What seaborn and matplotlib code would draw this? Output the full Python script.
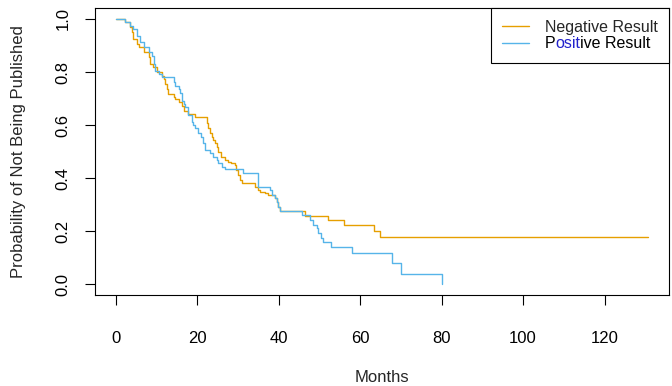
import matplotlib
matplotlib.use("Agg")
import matplotlib.pyplot as plt
from matplotlib.transforms import IdentityTransform
import pandas as pd
import seaborn as sns

# Kaplan-Meier step curves (months, survival after each step)
neg_months = [0, 2.3, 3.5, 3.9, 4.3, 5.2, 5.6, 6.8, 8.0, 8.4, 9.2, 10.1, 11.2, 11.7,
              12.1, 12.5, 12.9, 14.2, 14.6, 15.4, 16.2, 16.6, 17.8, 19.4, 22.3, 22.7,
              23.1, 23.5, 23.9, 24.3, 24.7, 25.1, 25.9, 26.8, 27.6, 28.2, 29.2, 29.6,
              30.0, 30.5, 31.0, 34.2, 35.0, 35.4, 36.6, 37.4, 39.1, 39.5, 39.9, 40.3,
              46.4, 52.2, 55.9, 63.4, 64.8, 130.6]
neg_surv = [1.0, 0.988, 0.969, 0.95, 0.925, 0.906, 0.893, 0.875, 0.856, 0.83, 0.818,
            0.80, 0.787, 0.774, 0.755, 0.736, 0.717, 0.705, 0.698, 0.686, 0.674, 0.655,
            0.643, 0.63, 0.607, 0.588, 0.569, 0.556, 0.544, 0.531, 0.519, 0.50, 0.481,
            0.469, 0.462, 0.456, 0.45, 0.431, 0.412, 0.394, 0.381, 0.368, 0.355, 0.349,
            0.343, 0.337, 0.324, 0.311, 0.292, 0.277, 0.259, 0.242, 0.224, 0.20, 0.179,
            0.179]

pos_months = [0, 2.3, 3.5, 4.3, 5.2, 6.0, 6.8, 8.0, 8.8, 9.3, 9.7, 10.5, 11.2, 14.2,
              14.6, 15.4, 15.8, 16.2, 16.6, 17.0, 17.8, 18.6, 19.0, 19.4, 20.2, 21.0,
              21.5, 21.9, 23.1, 23.9, 24.7, 25.1, 26.0, 26.8, 31.3, 35.0, 37.8, 38.3,
              39.1, 39.5, 39.9, 40.3, 45.6, 47.7, 48.5, 49.3, 49.7, 50.3, 50.9, 52.9,
              57.9, 67.9, 69.9, 80.0]
pos_surv = [1.0, 0.988, 0.975, 0.962, 0.937, 0.912, 0.893, 0.875, 0.862, 0.83, 0.805,
            0.793, 0.78, 0.761, 0.749, 0.736, 0.72, 0.692, 0.68, 0.667, 0.638, 0.613,
            0.60, 0.588, 0.569, 0.556, 0.531, 0.506, 0.494, 0.481, 0.469, 0.456, 0.443,
            0.435, 0.418, 0.368, 0.355, 0.337, 0.324, 0.311, 0.292, 0.277, 0.261, 0.242,
            0.224, 0.211, 0.192, 0.173, 0.16, 0.142, 0.119, 0.079, 0.039, 0.0]

x_ticks = [0, 20, 40, 60, 80, 100, 120]
y_ticks = [0.0, 0.2, 0.4, 0.6, 0.8, 1.0]

sns.set_style("ticks")
plt.rcParams["font.family"] = ["Liberation Sans", "DejaVu Sans"]

fig = plt.figure(figsize=(6.72, 3.86), dpi=100)
ax = fig.add_axes([0.1409, 0.2358, 0.8546, 0.7425])

neg_df = pd.DataFrame({"Months": neg_months, "Surv": neg_surv})
pos_df = pd.DataFrame({"Months": pos_months, "Surv": pos_surv})

sns.lineplot(data=neg_df, x="Months", y="Surv", estimator=None, drawstyle="steps-post",
             color="#E69F00", lw=1.0, label="Negative Result", ax=ax)
sns.lineplot(data=pos_df, x="Months", y="Surv", estimator=None, drawstyle="steps-post",
             color="#56B4E9", lw=1.0, label="Positive Result", ax=ax)

# R-style 4% padding
tmax = max(neg_months + pos_months)
ax.set_xlim(-0.04 * tmax, 1.04 * tmax)
ax.set_ylim(-0.04, 1.04)
ax.set_xticks(x_ticks)
ax.set_yticks(y_ticks)
ax.set_yticklabels([f"{v:.1f}" for v in y_ticks])

for s in ax.spines.values():
    s.set_visible(True)
    s.set_color("black")
    s.set_linewidth(0.8)

ax.tick_params(axis="both", direction="out", length=7.2, width=0.8, colors="black",
               labelsize=12)
ax.tick_params(axis="x", pad=18.5)
ax.tick_params(axis="y", pad=10, labelrotation=90)
for lbl in ax.get_yticklabels():
    lbl.set_va("center")

ax.set_xlabel("Months", fontsize=12, labelpad=17.5)
ax.set_ylabel("Probability of Not Being Published", fontsize=12, labelpad=21.5)

leg = ax.legend(loc="upper right", frameon=True, fancybox=False, borderaxespad=0,
                edgecolor="black", framealpha=1, fontsize=11.5, handlelength=1.7,
                handletextpad=0.95, borderpad=0.72, labelspacing=0.08)
leg.get_frame().set_linewidth(0.8)

# second legend entry has "osit" in blue: hide the label, redraw it in three pieces
t2 = leg.get_texts()[1]
fig.canvas.draw()
r = fig.canvas.get_renderer()
bb = t2.get_window_extent(r)
prop = t2.get_fontproperties()
t2.set_alpha(0)


def text_w(s):
    return r.get_text_width_height_descent(s, prop, ismath=False)[0]


w_posit = text_w("Posit")
x_osit = w_posit - text_w("osit")
for x0, piece, col in [(0, "P", "black"), (x_osit, "osit", "#2222CC"),
                       (w_posit, "ive Result", "black")]:
    fig.text(bb.x0 + x0, bb.y0, piece, transform=IdentityTransform(), va="bottom",
             ha="left", fontproperties=prop, color=col, zorder=10)

fig.savefig("out.png", dpi=100)
